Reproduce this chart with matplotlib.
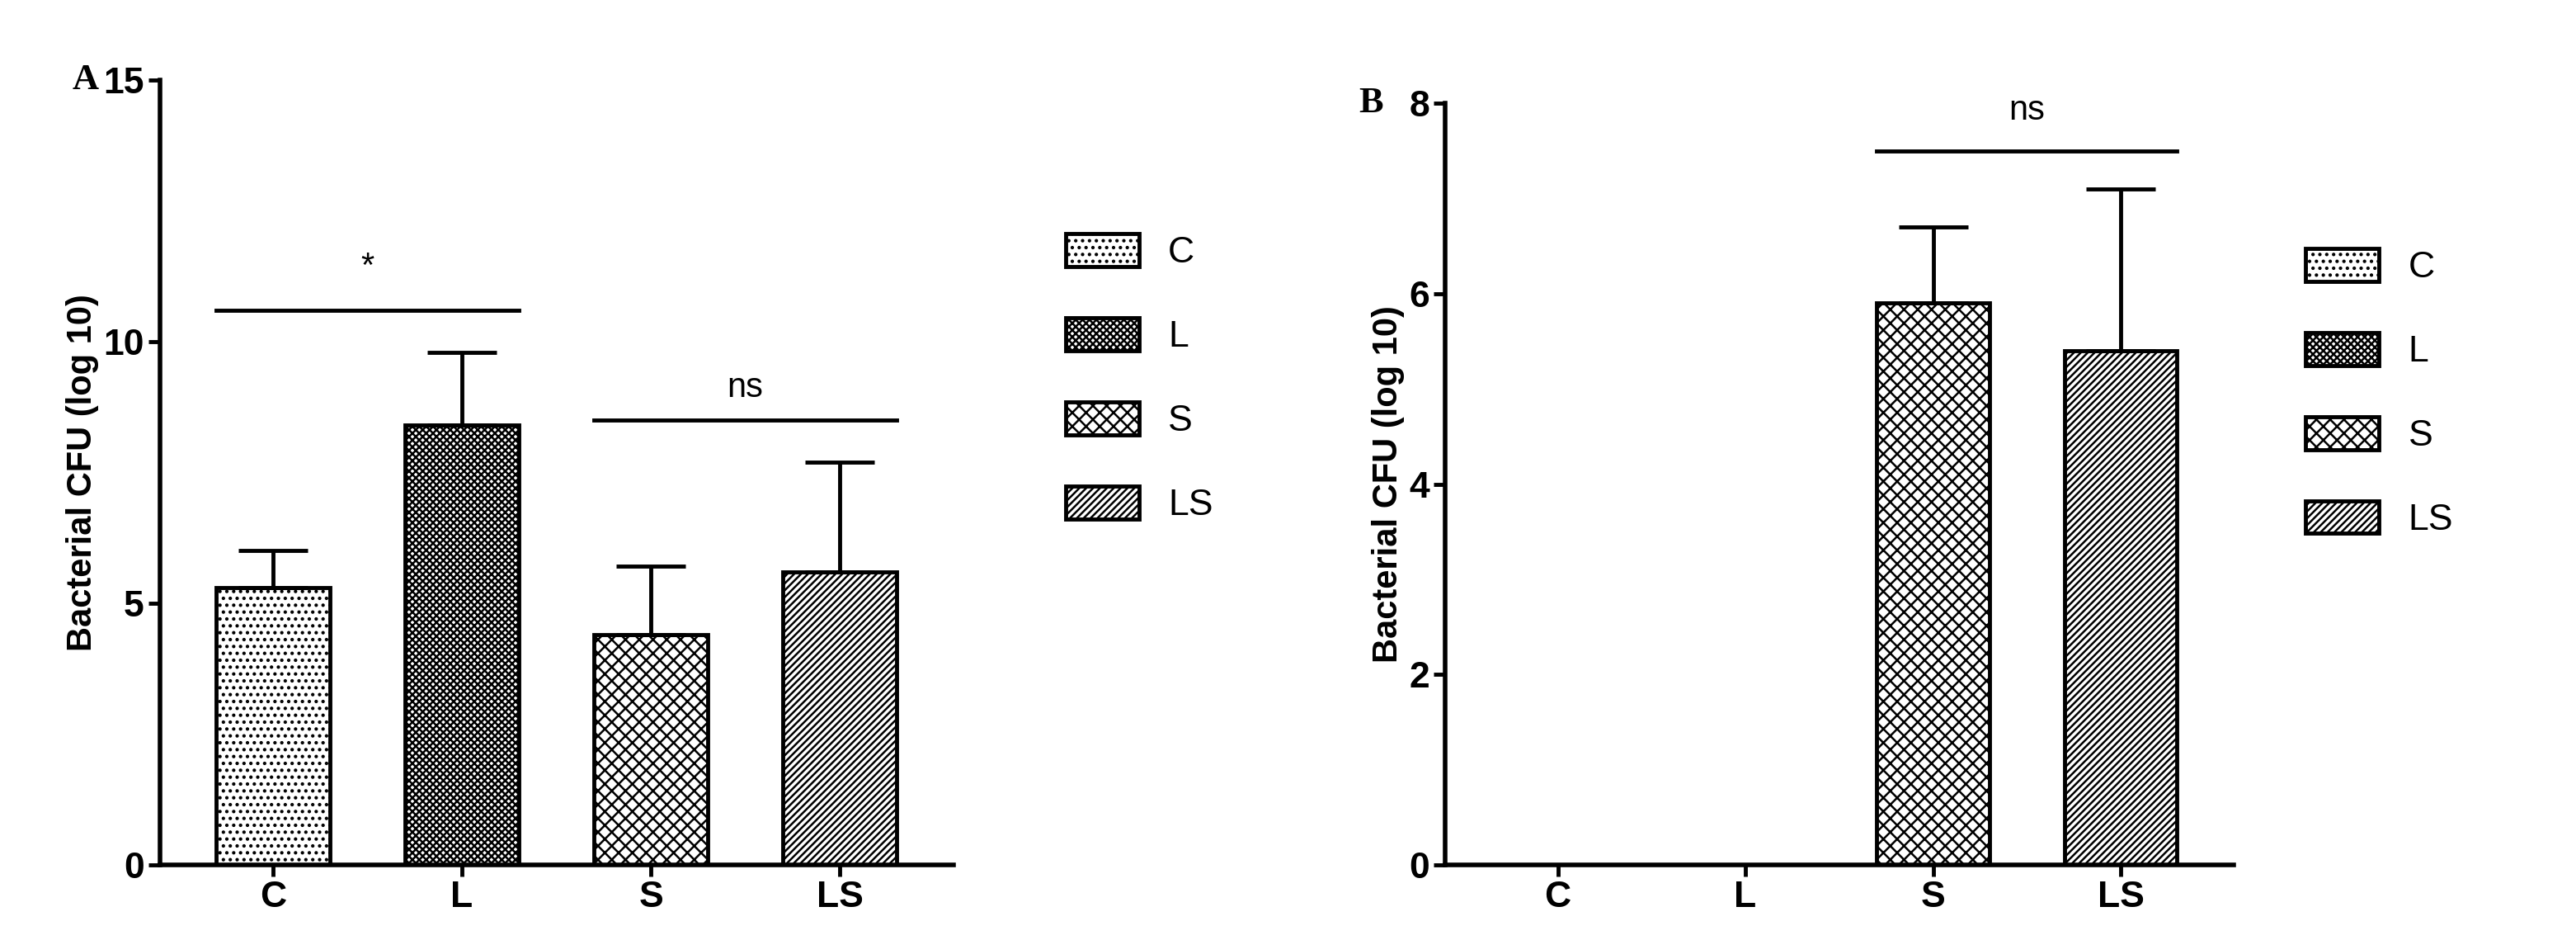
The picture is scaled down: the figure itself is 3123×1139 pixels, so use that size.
import numpy as np
import matplotlib.pyplot as plt

groups = ["C", "L", "S", "LS"]
a_means = [5.3, 8.4, 4.4, 5.6]
a_err = [0.7, 1.4, 1.3, 2.1]
b_means = [0.0, 0.0, 5.9, 5.4]
b_err = [0.0, 0.0, 0.8, 1.7]
hatches = ["..", "xxxx", "XX", "////"]

plt.rcParams['font.family'] = ['Liberation Sans', 'DejaVu Sans']
plt.rcParams['hatch.linewidth'] = 1.8

fig = plt.figure(figsize=(31.23, 11.39), dpi=100)
axA = fig.add_axes([0.062, 0.08, 0.308, 0.835])
axB = fig.add_axes([0.561, 0.08, 0.306, 0.81])


def panel(ax, means, errs, ymax, step, letter, legx):
    x = np.arange(len(groups))
    for i in range(len(groups)):
        ax.bar(x[i], means[i], width=0.6, color="white", edgecolor="black",
               hatch=hatches[i], linewidth=3.5, label=groups[i])
        if means[i] > 0:
            ax.errorbar(x[i], means[i], yerr=[[0], [errs[i]]], color="black",
                        capsize=30, elinewidth=3.5, capthick=3.5)
    ax.set_xlim(-0.6, 3.6)
    ax.set_ylim(0, ymax)
    ax.set_yticks(np.arange(0, ymax + 0.01, step))
    ax.set_xticks(x)
    ax.set_xticklabels(groups)
    for s in ["top", "right"]:
        ax.spines[s].set_visible(False)
    for s in ["left", "bottom"]:
        ax.spines[s].set_linewidth(4)
    ax.tick_params(width=3.5, length=10, labelsize=32)
    for lab in ax.get_xticklabels() + ax.get_yticklabels():
        lab.set_fontweight("bold")
    ax.set_ylabel("Bacterial CFU (log 10)", fontsize=30, fontweight="bold")
    ax.text(-0.11, 1.0, letter, transform=ax.transAxes, fontsize=32,
            fontweight="bold", family="Liberation Serif", va="center")
    ax.legend(loc="center left", bbox_to_anchor=(legx, 0.62), frameon=False,
              fontsize=32, handlelength=2.0, handleheight=1.0, labelspacing=1.3)


panel(axA, a_means, a_err, 15, 5, "A", 1.1)
panel(axB, b_means, b_err, 8, 2, "B", 1.05)


def bracket(ax, x1, x2, y, txt, dy):
    ax.plot([x1 - 0.3, x2 + 0.3], [y, y], color="black", lw=3.5)
    ax.text((x1 + x2) / 2, y + dy, txt, ha="center", va="bottom", fontsize=30)


bracket(axA, 0, 1, 10.6, "*", 0.5)
bracket(axA, 2, 3, 8.5, "ns", 0.3)
bracket(axB, 2, 3, 7.5, "ns", 0.25)

fig.savefig("out.png", dpi=100, facecolor="white")
